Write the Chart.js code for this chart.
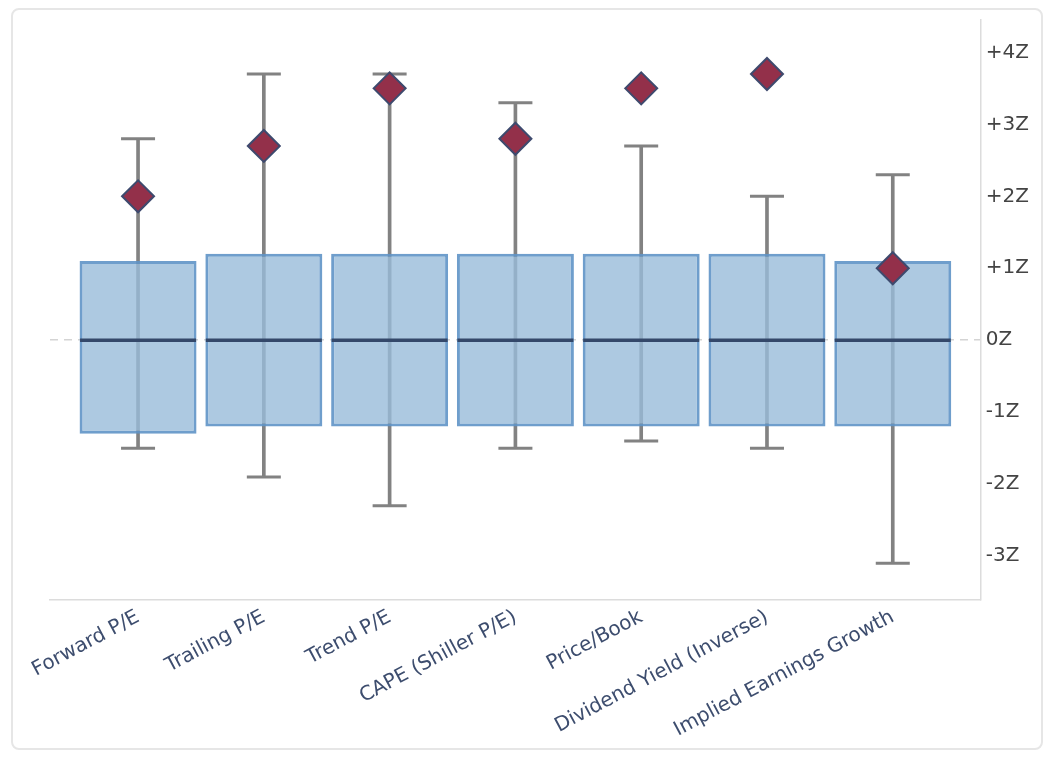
<!DOCTYPE html>
<html lang="en">

<head>
    <meta charset="UTF-8">
    <title>Valuation Z-Scores</title>
    <style>
        html, body { margin: 0; padding: 0; background: #fff; }
        .card {
            position: absolute;
            left: 11px;
            top: 8px;
            width: 1032px;
            height: 742px;
            border: 2px solid #e6e6e6;
            border-radius: 8px;
            box-sizing: border-box;
        }
        canvas { display: block; }
    </style>
</head>

<body>

    <div class="card">
        <canvas id="myChart"></canvas>
    </div>

    <script src="https://cdn.jsdelivr.net/npm/chart.js@4/dist/chart.umd.min.js"></script>
    <script>
        var categories = ['Forward P/E', 'Trailing P/E', 'Trend P/E', 'CAPE (Shiller P/E)', 'Price/Book', 'Dividend Yield (Inverse)', 'Implied Earnings Growth'];
        var whiskerLow = [-1.5, -1.9, -2.3, -1.5, -1.4, -1.5, -3.1];
        var whiskerHigh = [2.8, 3.7, 3.7, 3.3, 2.7, 2.0, 2.3];
        var boxLow = [-1.3, -1.2, -1.2, -1.2, -1.2, -1.2, -1.2];
        var boxHigh = [1.1, 1.2, 1.2, 1.2, 1.2, 1.2, 1.1];
        var medians = [0, 0, 0, 0, 0, 0, 0];
        var current = [2.0, 2.7, 3.5, 2.8, 3.5, 3.7, 1.0];
        var yTicks = [-3, -2, -1, 0, 1, 2, 3, 4];

        function pts(values) {
            return values.map(function (v, i) { return { x: i, y: v }; });
        }
        function ranges(lo, hi) {
            return lo.map(function (v, i) { return { x: i, y: [v, hi[i]] }; });
        }

        var config = {
            data: {
                datasets: [
                    {
                        type: 'scatter',
                        label: 'Current',
                        data: pts(current),
                        pointStyle: 'rectRot',
                        pointRadius: 16,
                        pointBackgroundColor: '#93304a',
                        pointBorderColor: '#3e4a6e',
                        pointBorderWidth: 2,
                        order: 0
                    },
                    {
                        type: 'scatter',
                        label: 'Median',
                        data: pts(medians),
                        pointStyle: 'line',
                        pointRadius: 58,
                        pointBorderColor: '#34486a',
                        pointBorderWidth: 3.5,
                        order: 1
                    },
                    {
                        type: 'bar',
                        label: 'IQR',
                        data: ranges(boxLow, boxHigh),
                        backgroundColor: 'rgba(152, 187, 217, 0.8)',
                        borderColor: 'rgba(95, 148, 198, 0.9)',
                        borderWidth: 3,
                        borderSkipped: false,
                        grouped: false,
                        barPercentage: 0.93,
                        categoryPercentage: 1,
                        order: 2
                    },
                    {
                        type: 'bar',
                        label: 'Range',
                        data: ranges(whiskerLow, whiskerHigh),
                        backgroundColor: '#828282',
                        borderWidth: 0,
                        grouped: false,
                        barThickness: 3,
                        order: 3
                    },
                    {
                        type: 'scatter',
                        label: 'Caps',
                        data: pts(whiskerHigh).concat(pts(whiskerLow)),
                        pointStyle: 'line',
                        pointRadius: 17,
                        pointBorderColor: '#828282',
                        pointBorderWidth: 3,
                        order: 4
                    }
                ]
            },
            options: {
                responsive: true,
                maintainAspectRatio: false,
                animation: false,
                layout: {
                    autoPadding: false,
                    padding: { left: 37, top: 10, right: 7, bottom: 0 }
                },
                plugins: {
                    legend: { display: false },
                    tooltip: { enabled: false }
                },
                scales: {
                    x: {
                        type: 'linear',
                        offset: false,
                        min: -0.7,
                        max: 6.7,
                        grid: { display: false, drawTicks: false },
                        border: { display: true, color: '#dcdcdc', width: 1.5 },
                        afterBuildTicks: function (axis) {
                            axis.ticks = categories.map(function (c, i) { return { value: i }; });
                        },
                        ticks: {
                            autoSkip: false,
                            maxRotation: 28,
                            minRotation: 28,
                            padding: 6,
                            color: '#3d4d6e',
                            font: { family: 'DejaVu Sans', size: 20 },
                            callback: function (value) { return categories[value]; }
                        }
                    },
                    y: {
                        type: 'linear',
                        position: 'right',
                        min: -3.6,
                        max: 4.45,
                        afterBuildTicks: function (axis) {
                            axis.ticks = yTicks.map(function (v) { return { value: v }; });
                        },
                        // top label sits well below the edge, so no extra room is needed
                        afterFit: function (axis) {
                            axis.paddingTop = 0;
                        },
                        grid: {
                            drawTicks: false,
                            lineWidth: 1.5,
                            color: function (ctx) {
                                return ctx.tick && ctx.tick.value === 0 ? '#d4d4d4' : 'rgba(0,0,0,0)';
                            }
                        },
                        border: { display: true, color: '#dcdcdc', width: 1.5, dash: [8, 6] },
                        ticks: {
                            padding: 5,
                            color: '#444444',
                            font: { family: 'DejaVu Sans', size: 20 },
                            callback: function (value) {
                                if (value === 0) return '0Z';
                                return (value > 0 ? '+' : '') + value + 'Z';
                            }
                        }
                    }
                }
            }
        };

        var ctx = document.getElementById('myChart').getContext('2d');
        var chart = new Chart(ctx, config);
    </script>

</body>

</html>
